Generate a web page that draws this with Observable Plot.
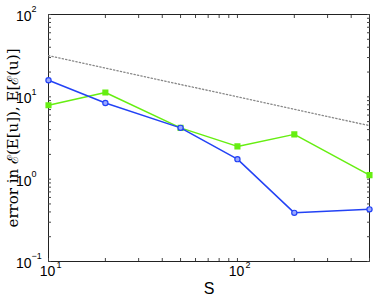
<!DOCTYPE html>
<html>
<head>
<meta charset="utf-8">
<script src="https://cdn.jsdelivr.net/npm/d3@7"></script>
<script src="https://cdn.jsdelivr.net/npm/@observablehq/plot@0.6"></script>
<style>
  body { margin: 0; background: #fff; }
  svg { display: block; }
</style>
</head>
<body>
<div id="chart"></div>
<script>
const S = [10, 20, 50, 100, 200, 500];
const blueErr = [15.9, 8.4, 4.2, 1.75, 0.39, 0.43];
const greenErr = [7.9, 11.3, 4.2, 2.5, 3.5, 1.12];
const refS = [10, 500];
const refErr = [31.6, 4.47];

const xMajor = [10, 100];
const xExp = ["1", "2"];
const xMinor = [20, 30, 40, 50, 60, 70, 80, 90, 200, 300, 400, 500];
const yMajor = [0.1, 1, 10, 100];
const yExp = ["\u22121", "0", "1", "2"];
const yMinor = [0.2,0.3,0.4,0.5,0.6,0.7,0.8,0.9,2,3,4,5,6,7,8,9,20,30,40,50,60,70,80,90];
const yLabel = "error in \u2130(E[u]), E[\u2130(u)]";
const xLabel = "S";

const blue = S.map((s, i) => ({s, e: blueErr[i]}));
const green = S.map((s, i) => ({s, e: greenErr[i]}));
const ref = refS.map((s, i) => ({s, e: refErr[i]}));

const blueCol = "#2342f5";
const greenCol = "#66ee11";
const font = "Liberation Sans, Arial, sans-serif";

const xTicksAll = [...xMajor, ...xMinor];
const yTicksAll = [...yMajor, ...yMinor];

const chart = Plot.plot({
  width: 374,
  height: 303,
  marginLeft: 48,
  marginRight: 5,
  marginTop: 14,
  marginBottom: 42,
  style: {fontFamily: font, fontSize: "13px", color: "#000", background: "#fff"},
  x: {type: "log", domain: [10, 500]},
  y: {type: "log", domain: [0.1, 100]},
  marks: [
    Plot.frame({stroke: "#222", strokeWidth: 1}),
    Plot.axisX(xTicksAll, {anchor: "bottom", tickSize: -3, tickFormat: () => "", label: null, stroke: "#444"}),
    Plot.axisX(xTicksAll, {anchor: "top", tickSize: -3, tickFormat: () => "", label: null, stroke: "#444"}),
    Plot.axisY(yTicksAll, {anchor: "left", tickSize: -3, tickFormat: () => "", label: null, stroke: "#444"}),
    Plot.axisY(yTicksAll, {anchor: "right", tickSize: -3, tickFormat: () => "", label: null, stroke: "#444"}),
    // y axis title
    Plot.axisY([], {anchor: "left", tickSize: 0, label: yLabel, labelAnchor: "center", labelArrow: "none", labelOffset: 41, fontSize: 15, fontFamily: "DejaVu Serif, Liberation Serif, serif", fill: "#000"}),
    // x tick labels
    Plot.text(xMajor, {x: d => d, frameAnchor: "bottom", text: () => "10", dy: 14, dx: -1, fontSize: 14, fill: "#000"}),
    Plot.text(xMajor, {x: d => d, frameAnchor: "bottom", text: (d, i) => xExp[i], dy: 6, dx: 8, textAnchor: "start", fontSize: 9, fill: "#000"}),
    // y tick labels
    Plot.text(yMajor, {y: d => d, frameAnchor: "left", text: () => "10", dx: -17, dy: 2, textAnchor: "end", fontSize: 14, fill: "#000"}),
    Plot.text(yMajor, {y: d => d, frameAnchor: "left", text: (d, i) => yExp[i], dx: -17, dy: -5, textAnchor: "start", fontSize: 9, fill: "#000"}),
    // reference dotted line
    Plot.line(ref, {x: "s", y: "e", stroke: "#888", strokeWidth: 1.3, strokeDasharray: "1.3,2.2"}),
    // data
    Plot.line(green, {x: "s", y: "e", stroke: greenCol, strokeWidth: 1.5}),
    Plot.dot(green, {x: "s", y: "e", symbol: "square", r: 2.6, fill: greenCol, stroke: greenCol}),
    Plot.line(blue, {x: "s", y: "e", stroke: blueCol, strokeWidth: 1.5}),
    Plot.dot(blue, {x: "s", y: "e", symbol: "circle", r: 2.6, fill: "#9aa8ff", stroke: blueCol, strokeWidth: 1.2}),
    // x title
    Plot.text([xLabel], {frameAnchor: "bottom", dy: 32, text: d => d, fontSize: 16, fill: "#000"})
  ]
});
document.getElementById("chart").appendChild(chart);
</script>
</body>
</html>
